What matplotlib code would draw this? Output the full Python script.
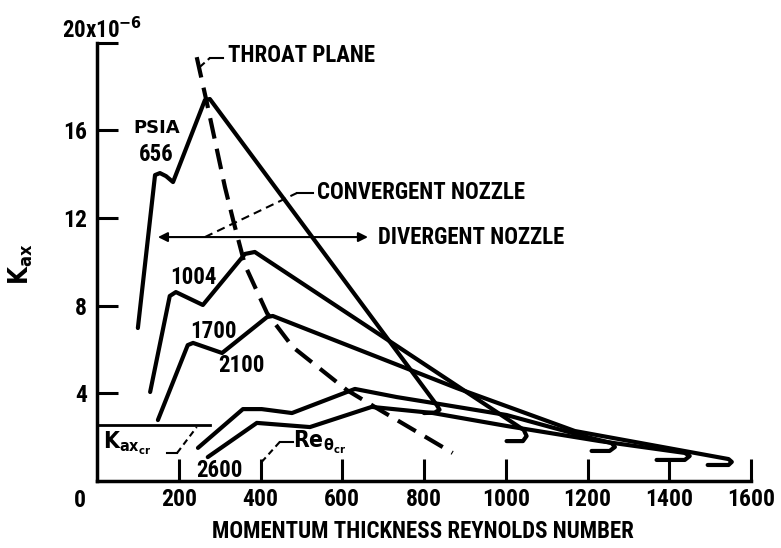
import matplotlib
matplotlib.use("Agg")
import matplotlib.pyplot as plt

# fonts: narrow bold sans to mimic the lettering of the scanned report figure
plt.rcParams['font.family'] = ['Roboto Condensed', 'DejaVu Sans']
plt.rcParams['font.stretch'] = 'condensed'
plt.rcParams['font.weight'] = 'bold'
plt.rcParams['axes.labelweight'] = 'bold'
plt.rcParams['mathtext.fontset'] = 'custom'
plt.rcParams['mathtext.rm'] = 'DejaVu Sans:weight=bold:stretch=condensed'
plt.rcParams['mathtext.it'] = 'DejaVu Sans:weight=bold:stretch=condensed'
plt.rcParams['mathtext.bf'] = 'DejaVu Sans:weight=bold:stretch=condensed'
plt.rcParams['mathtext.default'] = 'rm'

FS = 16.5

# Kax (x10^-6) vs momentum thickness Reynolds number, one curve per chamber pressure (psia)
re_656 = [100, 142, 154, 169, 186, 264, 276, 831, 838, 826, 800]
k_656 = [6.98, 13.96, 14.05, 13.91, 13.64, 17.38, 17.43, 3.47, 3.25, 3.12, 3.10]

re_1004 = [130, 178, 193, 259, 362, 386, 1044, 1051, 1042, 1002]
k_1004 = [4.06, 8.44, 8.62, 8.03, 10.36, 10.45, 2.33, 2.05, 1.82, 1.82]

re_1700 = [149, 222, 235, 306, 416, 430, 880, 1169, 1545, 1553, 1545, 1494]
k_1700 = [2.78, 6.20, 6.30, 5.84, 7.48, 7.53, 4.24, 2.28, 1.00, 0.87, 0.73, 0.73]

re_2100 = [247, 357, 403, 477, 631, 733, 822, 1002, 1198, 1259, 1267, 1254, 1210]
k_2100 = [1.51, 3.28, 3.28, 3.10, 4.20, 3.83, 3.56, 3.01, 2.01, 1.73, 1.55, 1.37, 1.37]

re_2600 = [271, 391, 521, 672, 822, 1002, 1230, 1438, 1450, 1438, 1369]
k_2600 = [1.09, 2.65, 2.46, 3.38, 3.10, 2.51, 1.82, 1.28, 1.14, 0.96, 0.96]

# throat plane (dashed)
re_throat = [244, 269, 313, 333, 362, 416, 479, 611, 692, 870]
k_throat = [19.34, 17.24, 13.41, 11.91, 9.85, 7.66, 6.11, 4.15, 3.24, 1.28]

kax_cr = 2.55
kax_cr_re_end = 276

x_ticks = [200, 400, 600, 800, 1000, 1200, 1400, 1600]
y_ticks = [4, 8, 12, 16, 20]
y_tick_labels = ['4', '8', '12', '16', '']

curves = [
    (re_656, k_656),
    (re_1004, k_1004),
    (re_1700, k_1700),
    (re_2100, k_2100),
    (re_2600, k_2600),
]

fig = plt.figure(figsize=(7.81, 5.48), dpi=100)
ax = fig.add_axes([0.1242, 0.1223, 0.8374, 0.7998])

for re, k in curves:
    ax.plot(re, k, color='black', lw=3, solid_joinstyle='round',
            solid_capstyle='round', clip_on=False)

ax.plot(re_throat, k_throat, color='black', lw=3, dashes=(5, 2.5), clip_on=False)

# critical Kax line
ax.plot([0, kax_cr_re_end], [kax_cr, kax_cr], color='black', lw=2, clip_on=False)

ax.set_xlim(0, 1600)
ax.set_ylim(0, 20)
for side in ['top', 'right']:
    ax.spines[side].set_visible(False)
ax.spines['left'].set_linewidth(2.5)
ax.spines['bottom'].set_linewidth(2.5)

ax.set_xticks(x_ticks)
ax.set_yticks(y_ticks)
ax.set_yticklabels(y_tick_labels)
ax.tick_params(axis='x', direction='in', length=16, width=2.2, pad=5, labelsize=17)
ax.tick_params(axis='y', direction='in', length=15, width=2.2, pad=7, labelsize=17)

ax.annotate('0', xy=(0, 0), xytext=(-17, -8), textcoords='offset pixels',
            ha='center', va='top', fontsize=17)
fig.text(62 / 781, 1 - 38 / 548, r'20x10$^{-6}$', fontsize=FS, va='baseline')

ax.set_xlabel('MOMENTUM THICKNESS REYNOLDS NUMBER', fontsize=FS)
ax.xaxis.set_label_coords(0.498, -0.088)
ax.set_ylabel(r'$K_{ax}$', fontsize=FS + 2)
ax.yaxis.set_label_coords(-0.095, 0.495)

# curve labels
ax.text(88, 16.1, 'PSIA', fontsize=13, va='center',
        family='DejaVu Sans', fontstretch='normal')
ax.text(103, 14.9, '656', fontsize=FS, va='center')
ax.text(178, 9.3, '1004', fontsize=FS, va='center')
ax.text(227, 6.8, '1700', fontsize=FS, va='center')
ax.text(296, 5.25, '2100', fontsize=FS, va='center')
ax.text(242, 0.46, '2600', fontsize=FS, va='center')

# throat plane callout
ax.plot([252, 276], [18.9, 19.3], color='black', lw=1.5, dashes=(3, 2), clip_on=False)
ax.plot([276, 308], [19.3, 19.3], color='black', lw=1.5, clip_on=False)
ax.text(320, 19.4, 'THROAT PLANE', fontsize=FS, va='center')

# convergent / divergent nozzle
ax.plot([264, 489], [11.13, 13.14], color='black', lw=1.5, dashes=(4, 2.5))
ax.plot([489, 528], [13.14, 13.14], color='black', lw=1.5)
ax.text(538, 13.18, 'CONVERGENT NOZZLE', fontsize=FS, va='center')
ax.annotate('', xy=(149, 11.13), xytext=(663, 11.13),
            arrowprops=dict(arrowstyle='<|-|>', color='black', lw=1.5,
                            mutation_scale=14, shrinkA=0, shrinkB=0))
ax.text(687, 11.13, 'DIVERGENT NOZZLE', fontsize=FS, va='center')

# Kax_cr callout
ax.plot([171, 196], [1.28, 1.28], color='black', lw=1.5, clip_on=False)
ax.plot([196, 244], [1.28, 2.46], color='black', lw=1.5, dashes=(3, 2))
ax.text(15, 1.5, r'$K_{ax_{cr}}$', fontsize=FS, va='baseline')

# Re_theta_cr callout
ax.plot([479, 447], [1.78, 1.78], color='black', lw=1.5)
ax.plot([447, 403], [1.78, 0.87], color='black', lw=1.5, dashes=(3, 2))
ax.text(479, 1.55, r'$Re_{\theta_{cr}}$', fontsize=FS, va='baseline')

fig.savefig('out.png', dpi=100)
